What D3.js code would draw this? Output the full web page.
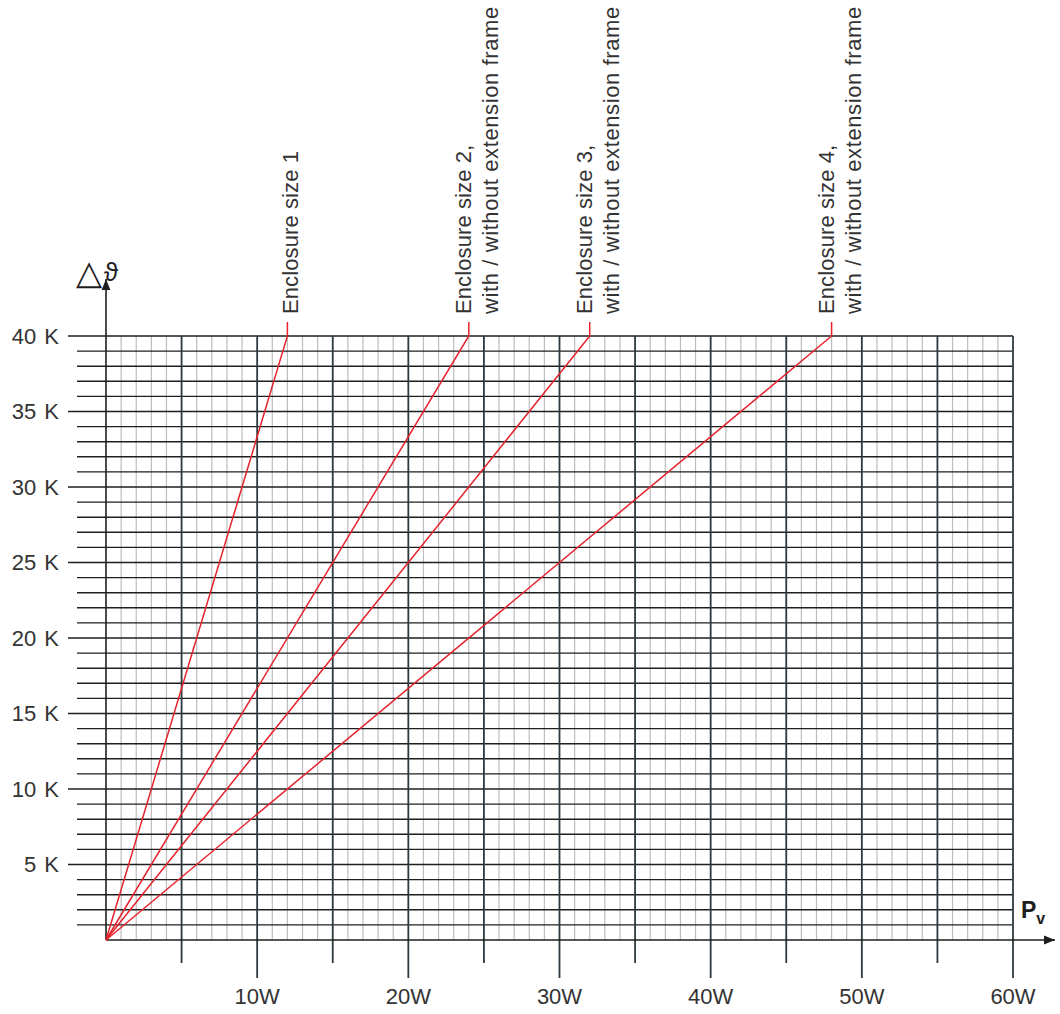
<!DOCTYPE html>
<html>
<head>
<meta charset="utf-8">
<script src="https://cdn.jsdelivr.net/npm/d3@7"></script>
<style>
  html, body { margin: 0; padding: 0; background: #fff; }
  svg { display: block; }
  text { font-family: "Liberation Sans", Arial, Helvetica, sans-serif; fill: #333; }
</style>
</head>
<body>
<svg id="chart" width="1060" height="1014"></svg>
<script>
// ---- Data ----
const seriesNames = ["Enclosure size 1", "Enclosure size 2", "Enclosure size 3", "Enclosure size 4"];
const seriesLabelLines = [
  ["Enclosure size 1"],
  ["Enclosure size 2,", "with / without extension frame"],
  ["Enclosure size 3,", "with / without extension frame"],
  ["Enclosure size 4,", "with / without extension frame"]
];
const seriesStartPower = [0, 0, 0, 0];      // W
const seriesStartTemp = [0, 0, 0, 0];       // K
const seriesEndPower = [12, 24, 32, 48];    // W at 40 K
const seriesEndTemp = [40, 40, 40, 40];     // K
const xTickValues = [10, 20, 30, 40, 50, 60];
const xTickLabels = ["10W", "20W", "30W", "40W", "50W", "60W"];
const yTickValues = [5, 10, 15, 20, 25, 30, 35, 40];
const yTickLabels = ["5 K", "10 K", "15 K", "20 K", "25 K", "30 K", "35 K", "40 K"];
const xDomain = [0, 60];
const yDomain = [0, 40];

// ---- Scales ----
const x = d3.scaleLinear().domain(xDomain).range([106, 1013]);
const y = d3.scaleLinear().domain(yDomain).range([940, 336]);

const svg = d3.select("#chart");

// minor vertical lines every 1 W
const minorX = d3.range(1, 60).filter(v => v % 5 !== 0);
svg.append("g").selectAll("line").data(minorX).join("line")
  .attr("x1", d => x(d)).attr("x2", d => x(d))
  .attr("y1", y(40)).attr("y2", y(0))
  .attr("stroke", "#bdbdbd").attr("stroke-width", 1.2);

// horizontal lines every 1 K
const hLines = d3.range(1, 41);
svg.append("g").selectAll("line").data(hLines).join("line")
  .attr("x1", d => d % 5 === 0 ? 68 : 77).attr("x2", x(60))
  .attr("y1", d => y(d)).attr("y2", d => y(d))
  .attr("stroke", "#1e1e1e").attr("stroke-width", 1.4);

// major vertical lines every 5 W, extending below axis
const majorX = d3.range(5, 61, 5);
svg.append("g").selectAll("line").data(majorX).join("line")
  .attr("x1", d => x(d)).attr("x2", d => x(d))
  .attr("y1", y(40)).attr("y2", d => d % 10 === 0 ? 978 : 963)
  .attr("stroke", "#2c3a3f").attr("stroke-width", 1.8);

// axes lines with arrows
svg.append("defs").append("marker")
  .attr("id", "arrow").attr("viewBox", "0 0 10 10").attr("refX", 10).attr("refY", 5)
  .attr("markerWidth", 11).attr("markerHeight", 11).attr("markerUnits", "userSpaceOnUse")
  .attr("orient", "auto")
  .append("path").attr("d", "M0,1 L10,5 L0,9 Z").attr("fill", "#1e1e1e");

svg.append("line")
  .attr("x1", x(0)).attr("x2", x(0)).attr("y1", y(0)).attr("y2", 279)
  .attr("stroke", "#1e1e1e").attr("stroke-width", 1.6)
  .attr("marker-end", "url(#arrow)");
svg.append("line")
  .attr("x1", x(0)).attr("x2", 1055).attr("y1", y(0)).attr("y2", y(0))
  .attr("stroke", "#1e1e1e").attr("stroke-width", 1.6)
  .attr("marker-end", "url(#arrow)");

// tick labels
svg.append("g").selectAll("text").data(xTickValues).join("text")
  .attr("x", d => x(d)).attr("y", 1004)
  .attr("text-anchor", "middle").attr("font-size", 22)
  .text((d, i) => xTickLabels[i]);

svg.append("g").selectAll("text").data(yTickValues).join("text")
  .attr("x", 59).attr("y", d => y(d)).attr("dy", "0.36em")
  .attr("text-anchor", "end").attr("font-size", 22).attr("word-spacing", 2)
  .text((d, i) => yTickLabels[i]);

// axis titles
svg.append("text").attr("x", 76).attr("y", 284)
  .attr("font-family", "DejaVu Sans").attr("font-size", 34)
  .style("fill", "#1e1e1e").text("△");
svg.append("text").attr("x", 104).attr("y", 281)
  .attr("font-family", "DejaVu Serif").attr("font-size", 26)
  .style("fill", "#1e1e1e").text("ϑ");

const pv = svg.append("text").attr("x", 1021).attr("y", 918).attr("font-size", 23)
  .attr("font-weight", "bold").style("fill", "#1e1e1e");
pv.append("tspan").text("P");
pv.append("tspan").attr("font-size", 16).attr("dy", 6).text("v");

// series lines
const series = seriesNames.map((name, i) => ({
  name,
  lines: seriesLabelLines[i],
  x0: seriesStartPower[i], y0: seriesStartTemp[i],
  x1: seriesEndPower[i], y1: seriesEndTemp[i]
}));

const red = "#e6232d";
const sg = svg.append("g");
sg.selectAll("path").data(series).join("path")
  .attr("d", d => `M${x(d.x0)},${y(d.y0)} L${x(d.x1)},${y(d.y1)} L${x(d.x1)},${y(d.y1) - 14}`)
  .attr("fill", "none").attr("stroke", red).attr("stroke-width", 1.5);

// series labels (rotated)
series.forEach(d => {
  const ex = x(d.x1);
  const single = d.lines.length === 1;
  d.lines.forEach((ln, j) => {
    const bx = single ? ex + 11 : ex + 2 + j * 27;
    svg.append("text")
      .attr("transform", `translate(${bx},314) rotate(-90)`)
      .attr("font-size", 22)
      .attr("letter-spacing", j === 1 ? 0.6 : 0.1)
      .text(ln);
  });
});
</script>
</body>
</html>
